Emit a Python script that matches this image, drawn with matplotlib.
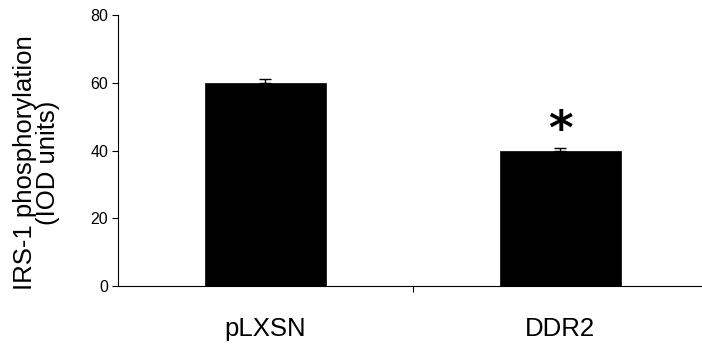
import matplotlib
matplotlib.use("Agg")
import matplotlib.pyplot as plt

categories = ["pLXSN", "DDR2"]
values = [60, 40]
errors = [1.0, 0.7]
significant = [False, True]

plt.rcParams["font.family"] = ["Liberation Sans", "DejaVu Sans"]

fig = plt.figure(figsize=(7.02, 3.49), dpi=100)
ax = fig.add_axes([0.168, 0.1805, 0.832, 0.7765])

x = list(range(len(categories)))
ax.bar(x, values, width=0.41, color="black", edgecolor="black", linewidth=0.5)
ax.errorbar(x, values, yerr=[[0] * len(errors), errors], fmt="none",
            ecolor="black", elinewidth=1, capsize=4, capthick=1)

for xi, v, e, sig in zip(x, values, errors, significant):
    if sig:
        ax.text(xi, v + e + 5.0, "*", ha="center", va="center",
                fontsize=34, fontweight="bold", family="DejaVu Sans")

ax.set_xlim(-0.5, 1.48)
ax.set_ylim(0, 80)
ax.set_yticks([0, 20, 40, 60, 80])
ax.set_xticks(x)
ax.set_xticklabels(categories, fontsize=18.5)
ax.tick_params(axis="x", length=0, pad=22)
ax.set_xticks([0.5], minor=True)
ax.tick_params(axis="x", which="minor", length=4, width=0.8, direction="out")
ax.tick_params(axis="y", labelsize=11.5, length=4, width=0.8, pad=3)

ax.set_ylabel("IRS-1 phosphorylation\n(IOD units)", fontsize=18.5,
              linespacing=0.95)
ax.yaxis.set_label_coords(-0.099, 0.455)

for side in ["top", "right"]:
    ax.spines[side].set_visible(False)
for side in ["left", "bottom"]:
    ax.spines[side].set_linewidth(0.8)

fig.savefig("out.png", dpi=100)
